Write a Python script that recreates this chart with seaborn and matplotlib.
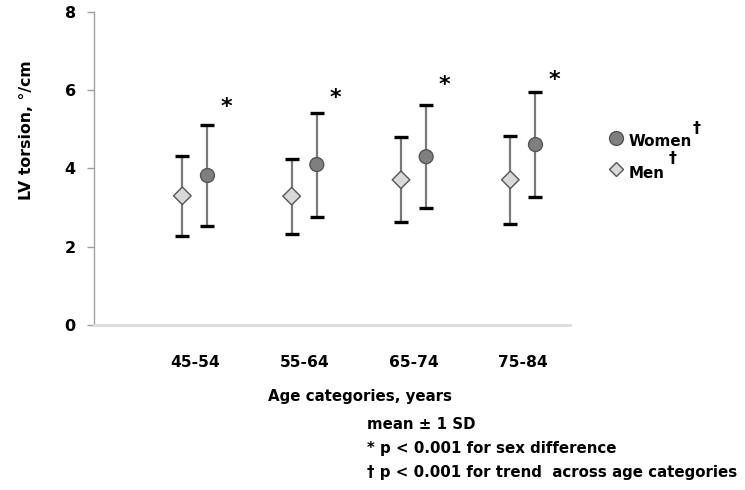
import numpy as np
import pandas as pd
import matplotlib
matplotlib.use("Agg")
import matplotlib.pyplot as plt
import matplotlib.transforms as mtrans
import seaborn as sns

categories = ["45-54", "55-64", "65-74", "75-84"]
women_mean = [3.82, 4.10, 4.30, 4.61]
women_sd = [1.30, 1.33, 1.32, 1.35]
men_mean = [3.30, 3.29, 3.71, 3.71]
men_sd = [1.03, 0.96, 1.09, 1.12]
star_y = [5.7, 5.94, 6.27, 6.4]
y_ticks = [0, 2, 4, 6, 8]

sns.set_style("white")
plt.rcParams['font.family'] = ['DejaVu Sans']
plt.rcParams['font.weight'] = 'bold'
plt.rcParams['text.color'] = 'black'
plt.rcParams['axes.labelcolor'] = 'black'

FS = 10.8

fig = plt.figure(figsize=(7.45, 4.90), dpi=100)
ax = fig.add_axes([0.126, 0.337, 0.639, 0.6385])

x = np.arange(len(categories))
off = 0.115
df = pd.DataFrame({
    "x": np.concatenate([x - off, x + off]),
    "y": men_mean + women_mean,
    "sd": men_sd + women_sd,
    "sex": ["Men"] * 4 + ["Women"] * 4,
})

for sex in ["Men", "Women"]:
    d = df[df.sex == sex]
    cont = ax.errorbar(d.x, d.y, yerr=d.sd, fmt='none', ecolor='#7a7a7a', elinewidth=1.6,
                       capsize=5.2, capthick=2.4, zorder=2)
    for cap in cont[1]:
        cap.set_markeredgecolor('black')
        cap.set_color('black')

sns.scatterplot(data=df, x="x", y="y", hue="sex", style="sex",
                markers={"Men": "D", "Women": "o"},
                palette={"Men": "#d9d9d9", "Women": "#7f7f7f"},
                size="sex", sizes={"Men": 80, "Women": 100},
                edgecolor='#555555', linewidth=1.0, legend=False, ax=ax, zorder=3)

star_tr = ax.transData + mtrans.ScaledTranslation(0, -5 / 100, fig.dpi_scale_trans)
for xi, sy in zip(x, star_y):
    ax.text(xi + 0.285, sy, "*", fontsize=16, fontweight='bold', ha='center', va='center',
            transform=star_tr)

ax.set_xlim(-0.924, 3.43)
ax.set_ylim(0, 8)
ax.set_yticks(y_ticks)
ax.set_yticklabels([str(t) for t in y_ticks], fontsize=11.5, fontweight='bold')
ax.set_xticks(x)
ax.set_xticklabels(categories, fontsize=11.2, fontweight='bold')
ax.tick_params(axis='y', length=5, color='#a0a0a0', width=1, pad=8, direction='out', left=True,
               labelcolor='black')
ax.tick_params(axis='x', length=0, pad=22, labelcolor='black')
for s in ['top', 'right']:
    ax.spines[s].set_visible(False)
ax.spines['left'].set_color('#a0a0a0')
ax.spines['left'].set_linewidth(1)
ax.spines['bottom'].set_color('#dcdcdc')
ax.spines['bottom'].set_linewidth(2)

ax.set_xlabel("")
ax.set_ylabel("LV torsion, °/cm", fontsize=11.3, fontweight='bold')
ax.yaxis.set_label_coords(-0.126, 0.623)

# legend
lx = 616 / 745
fig.add_artist(plt.Line2D([lx], [1 - 138 / 490], marker='o', markersize=10, markerfacecolor='#7f7f7f',
                          markeredgecolor='#555555', linestyle='none', transform=fig.transFigure))
fig.add_artist(plt.Line2D([lx], [1 - 169 / 490], marker='D', markersize=7.5, markerfacecolor='#d9d9d9',
                          markeredgecolor='#555555', linestyle='none', transform=fig.transFigure))
fig.text(629 / 745, 1 - 142 / 490, "Women", fontsize=10.9, fontweight='bold', va='center', ha='left')
fig.text(693 / 745, 1 - 128 / 490, "†", fontsize=11.5, fontweight='bold', va='center', ha='left')
fig.text(629 / 745, 1 - 173 / 490, "Men", fontsize=10.9, fontweight='bold', va='center', ha='left')
fig.text(669 / 745, 1 - 159 / 490, "†", fontsize=11.5, fontweight='bold', va='center', ha='left')

fig.text(268 / 745, 1 - 397 / 490, "Age categories, years", fontsize=FS, fontweight='bold', va='center', ha='left')
fig.text(367 / 745, 1 - 424 / 490, "mean ± 1 SD", fontsize=FS, fontweight='bold', va='center', ha='left')
fig.text(367 / 745, 1 - 448 / 490, "* p < 0.001 for sex difference", fontsize=FS, fontweight='bold', va='center', ha='left')
fig.text(367 / 745, 1 - 472 / 490, "† p < 0.001 for trend  across age categories", fontsize=FS, fontweight='bold', va='center', ha='left')

fig.savefig("out.png", dpi=100, facecolor='white')
